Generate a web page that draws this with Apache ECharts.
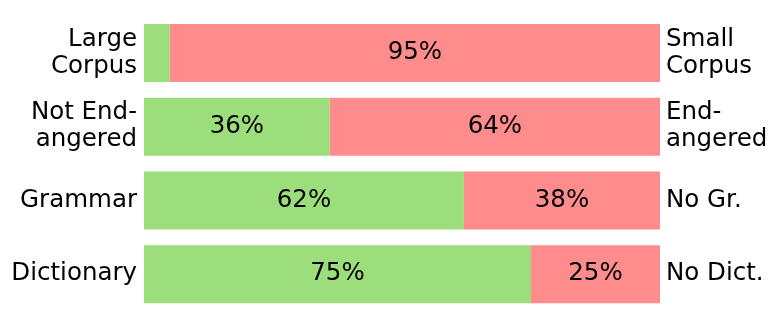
<!DOCTYPE html>
<html>
<head>
<meta charset="utf-8">
<script src="https://cdn.jsdelivr.net/npm/echarts@6/dist/echarts.min.js"></script>
<style>
  html, body { margin: 0; padding: 0; background: #fff; }
  #chart { width: 778px; height: 328px; }
</style>
</head>
<body>
<div id="chart"></div>
<script>
// rows top to bottom
const leftLabels = ['Large\nCorpus', 'Not End-\nangered', 'Grammar', 'Dictionary']
const rightLabels = ['Small\nCorpus', 'End-\nangered', 'No Gr.', 'No Dict.']
const greenValues = [5, 36, 62, 75]
const redValues = [95, 64, 38, 25]

const chart = echarts.init(document.getElementById('chart'))

const axisText = {
    color: '#000',
    fontFamily: 'DejaVu Sans',
    fontSize: 24.5,
    lineHeight: 27,
    padding: [9, 0, 0, 0]
}

const pctLabel = {
    show: true,
    position: 'inside',
    color: '#000',
    fontFamily: 'DejaVu Sans',
    fontSize: 24.5,
    padding: [9, 0, 0, 0],
    formatter: p => p.value < 10 ? '' : p.value + '%'
}

chart.setOption({
    animation: false,
    grid: { left: 144, right: 118, top: 16, bottom: 17 },
    xAxis: {
        type: 'value', min: 0, max: 100,
        show: false
    },
    yAxis: [{
        type: 'category',
        data: leftLabels,
        inverse: true,
        position: 'left',
        axisLine: { show: false },
        axisTick: { show: false },
        axisLabel: Object.assign({ margin: 7, align: 'right' }, axisText)
    }, {
        type: 'category',
        data: rightLabels,
        inverse: true,
        position: 'right',
        axisLine: { show: false },
        axisTick: { show: false },
        axisLabel: Object.assign({ margin: 6, align: 'left' }, axisText)
    }],
    series: [{
        type: 'bar',
        stack: 'all',
        data: greenValues,
        barWidth: 58,
        itemStyle: { color: '#9cde7c' },
        label: pctLabel
    }, {
        type: 'bar',
        stack: 'all',
        data: redValues,
        barWidth: 58,
        itemStyle: { color: '#ff8c8c' },
        label: pctLabel
    }]
})
</script>
</body>
</html>
